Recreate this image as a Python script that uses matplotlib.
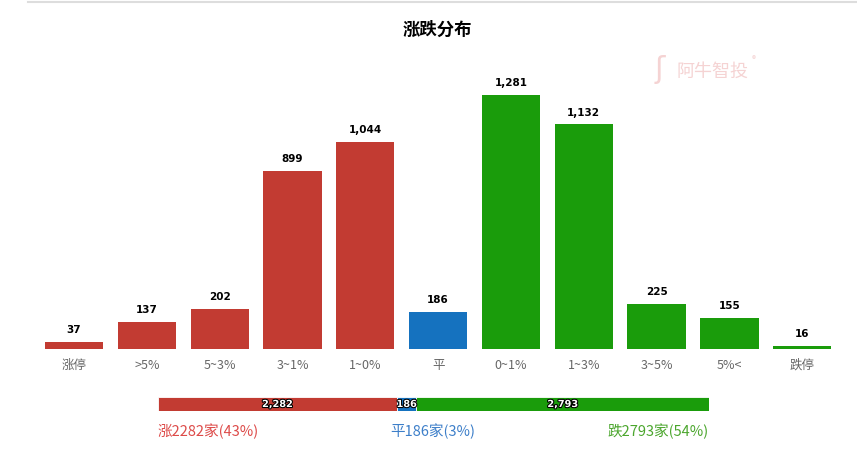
import numpy as np
import matplotlib
matplotlib.use("Agg")
import matplotlib.pyplot as plt
import matplotlib.patheffects as pe

plt.rcParams['font.family'] = ['Noto Sans CJK SC', 'DejaVu Sans']

categories = ['涨停', '>5%', '5~3%', '3~1%', '1~0%', '平', '0~1%', '1~3%', '3~5%', '5%<', '跌停']
counts = [37, 137, 202, 899, 1044, 186, 1281, 1132, 225, 155, 16]
groups = ['涨', '平', '跌']
group_counts = [2282, 186, 2793]
group_pcts = [43, 3, 54]

red = '#c23b32'
blue = '#1572bf'
green = '#1a9c0b'
bar_colors = [red] * 5 + [blue] + [green] * 5
text_colors = ['#dd4a48', '#3d7fc9', '#4ba62d']

W, H = 857, 457
fig = plt.figure(figsize=(W / 100, H / 100), dpi=100)

# light line at the very top
fig.add_artist(plt.Line2D([28 / W, 1], [1 - 1.5 / H, 1 - 1.5 / H], color='#dddddd', lw=1.5))

fig.text(437 / W, 1 - 30 / H, '涨跌分布', ha='center', va='center', fontsize=12.5, fontweight='bold')

# watermark
fig.text(676 / W, 1 - 72 / H, '阿牛智投', ha='left', va='center', fontsize=13, color='#f5d3d3')
fig.text(752 / W, 1 - 60 / H, '®', ha='left', va='center', fontsize=6, color='#f5d3d3')
fig.text(660 / W, 1 - 70 / H, 'ʃ', ha='center', va='center', fontsize=22, color='#f5d3d3', family='DejaVu Sans')

# main histogram
ax = fig.add_axes([37.6 / W, (H - 349) / H, 801 / W, 289 / H])
x = np.arange(len(categories))
bars = ax.bar(x, counts, width=0.8, color=bar_colors)
ax.set_xlim(-0.5, len(categories) - 0.5)
ax.set_ylim(0, 1457)
for b, v in zip(bars, counts):
    ax.annotate(f'{v:,}', (b.get_x() + b.get_width() / 2, v), xytext=(0, 5),
                textcoords='offset points', ha='center', va='bottom',
                fontsize=7.5, fontweight='bold', color='black', family='DejaVu Sans')
ax.set_xticks(x)
ax.set_xticklabels(categories, fontsize=9, color='#666666')
ax.tick_params(axis='x', length=0, pad=7)
ax.set_yticks([])
for s in ax.spines.values():
    s.set_visible(False)

# stacked summary bar
total = sum(group_counts)
ax2 = fig.add_axes([158 / W, (H - 411) / H, 551 / W, 14 / H])
left = 0
for c, col in zip(group_counts, [red, blue, green]):
    ax2.barh(0, c, left=left, height=1, color=col, edgecolor='white', linewidth=0.6)
    ax2.text(left + c / 2, 0, f'{c:,}', ha='center', va='center', fontsize=7,
             fontweight='bold', color='white', family='DejaVu Sans',
             path_effects=[pe.withStroke(linewidth=1.5, foreground='black')])
    left += c
ax2.set_xlim(0, total)
ax2.set_ylim(-0.5, 0.5)
ax2.axis('off')

# summary texts
ty = 1 - 431 / H
fig.text(158 / W, ty, f'{groups[0]}{group_counts[0]}家({group_pcts[0]}%)', ha='left', va='center',
         fontsize=10.5, color=text_colors[0])
fig.text(433 / W, ty, f'{groups[1]}{group_counts[1]}家({group_pcts[1]}%)', ha='center', va='center',
         fontsize=10.5, color=text_colors[1])
fig.text(709 / W, ty, f'{groups[2]}{group_counts[2]}家({group_pcts[2]}%)', ha='right', va='center',
         fontsize=10.5, color=text_colors[2])

fig.savefig('out.png', dpi=100, facecolor='white')
